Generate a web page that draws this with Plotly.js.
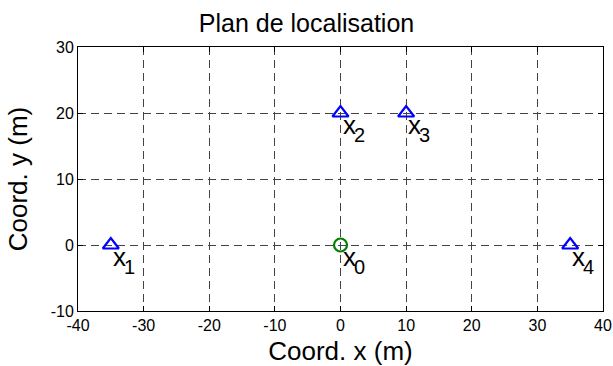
<!DOCTYPE html>
<html>
<head>
<meta charset="utf-8">
<script src="https://cdn.plot.ly/plotly-3.0.1.min.js"></script>
<style>html,body{margin:0;padding:0;background:#fff}#chart{width:613px;height:366px}</style>
</head>
<body>
<div id="chart"></div>
<script>
// Sensor positions (triangles)
const sensorX = [-35, 0, 10, 35];
const sensorY = [0, 20, 20, 0];
const sensorIndex = ['1', '2', '3', '4'];
// Source position (circle)
const sourceX = [0];
const sourceY = [0];
const sourceIndex = ['0'];
// Axis ticks
const xTicks = [-40, -30, -20, -10, 0, 10, 20, 30, 40];
const yTicks = [-10, 0, 10, 20, 30];

const FONT = 'Liberation Sans, Arial, Helvetica, sans-serif';

const traces = [
  {
    x: sensorX, y: sensorY, type: 'scatter', mode: 'markers',
    marker: {symbol: 'triangle-up-open', size: 14, color: '#0000ff', line: {width: 2.2, color: '#0000ff'}},
    hoverinfo: 'skip', showlegend: false
  },
  {
    x: sourceX, y: sourceY, type: 'scatter', mode: 'markers',
    marker: {symbol: 'circle-open', size: 13, color: '#008000', line: {width: 2.2, color: '#008000'}},
    hoverinfo: 'skip', showlegend: false
  }
];

// Labels "x" with a subscript index, placed to the lower right of each point
const annotations = [];
const allX = sensorX.concat(sourceX), allY = sensorY.concat(sourceY), allI = sensorIndex.concat(sourceIndex);
for (let i = 0; i < allX.length; i++) {
  annotations.push({
    x: allX[i], y: allY[i], xref: 'x', yref: 'y', text: 'x', showarrow: false,
    xanchor: 'left', yanchor: 'middle', xshift: 0, yshift: -12,
    font: {family: FONT, size: 26, color: '#000'}
  });
  annotations.push({
    x: allX[i], y: allY[i], xref: 'x', yref: 'y', text: allI[i], showarrow: false,
    xanchor: 'left', yanchor: 'middle', xshift: 11, yshift: -22,
    font: {family: FONT, size: 20, color: '#000'}
  });
}

const axisCommon = {
  showline: true, linecolor: '#000', linewidth: 1, mirror: 'allticks',
  ticks: 'inside', ticklen: 5, tickcolor: '#000', tickwidth: 1,
  showgrid: true, gridcolor: '#444', gridwidth: 1, griddash: '8px,5px',
  zeroline: false, automargin: false,
  tickfont: {family: FONT, size: 16, color: '#000'}
};

const layout = {
  width: 613, height: 366,
  margin: {l: 78, r: 10, t: 47, b: 55},
  paper_bgcolor: '#fff', plot_bgcolor: '#fff',
  title: {text: 'Plan de localisation', font: {family: FONT, size: 25, color: '#000'},
          x: 0.5, xanchor: 'center', y: 1 - 23/366, yref: 'container', yanchor: 'middle'},
  xaxis: Object.assign({}, axisCommon, {
    range: [-40, 40], tickvals: xTicks, ticktext: xTicks.map(String),
    title: {text: 'Coord. x (m)', font: {family: FONT, size: 26, color: '#000'}, standoff: 8}
  }),
  yaxis: Object.assign({}, axisCommon, {
    range: [-10, 30], tickvals: yTicks, ticktext: yTicks.map(String),
    title: {text: 'Coord. y (m)', font: {family: FONT, size: 26, color: '#000'}, standoff: 15}
  }),
  annotations: annotations
};

Plotly.newPlot('chart', traces, layout, {staticPlot: true, displayModeBar: false});
</script>
</body>
</html>
